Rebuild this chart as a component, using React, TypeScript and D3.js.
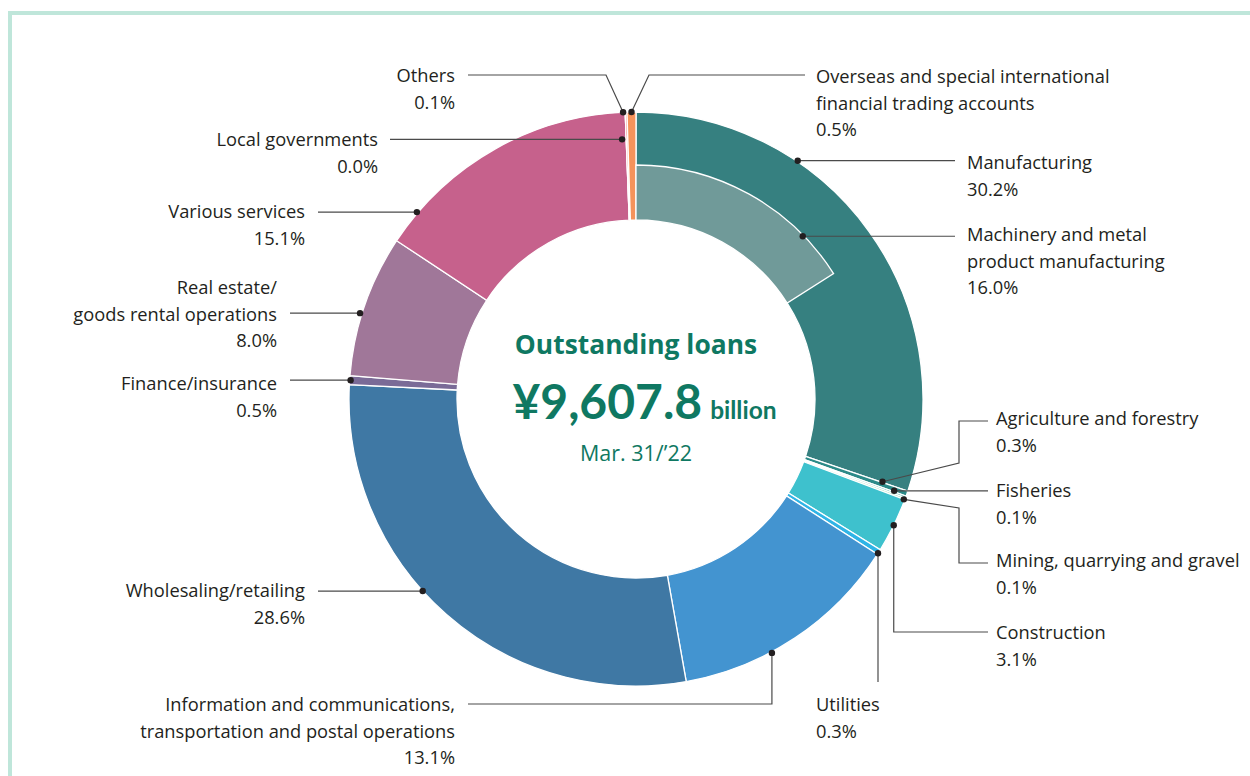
import React from "react";
import * as d3 from "d3";

// ---------- data ----------
const categories = [
  "Manufacturing",
  "Agriculture and forestry",
  "Fisheries",
  "Mining, quarrying and gravel",
  "Construction",
  "Utilities",
  "Information and communications, transportation and postal operations",
  "Wholesaling/retailing",
  "Finance/insurance",
  "Real estate/goods rental operations",
  "Various services",
  "Local governments",
  "Others",
  "Overseas and special international financial trading accounts",
];
const shares = [30.2, 0.3, 0.1, 0.1, 3.1, 0.3, 13.1, 28.6, 0.5, 8.0, 15.1, 0.0, 0.1, 0.5];
const subCategory = "Machinery and metal product manufacturing";
const subShare = 16.0;
const totalLoans = "¥9,607.8";
const dateLabel = "Mar. 31/’22";

// label text lines (display wrapping)
const labelLines = [
  ["Manufacturing"],
  ["Agriculture and forestry"],
  ["Fisheries"],
  ["Mining, quarrying and gravel"],
  ["Construction"],
  ["Utilities"],
  ["Information and communications,", "transportation and postal operations"],
  ["Wholesaling/retailing"],
  ["Finance/insurance"],
  ["Real estate/", "goods rental operations"],
  ["Various services"],
  ["Local governments"],
  ["Others"],
  ["Overseas and special international", "financial trading accounts"],
];
const subLabelLines = ["Machinery and metal", "product manufacturing"];

// ---------- style ----------
const colors = [
  "#368080", "#2c8a88", "#27a89b", "#93d3a1", "#3ec1cd", "#2fb4e6", "#4394d0",
  "#3f78a4", "#7a6b97", "#a07799", "#c6618c", "#f2b6c0", "#eb5e55", "#f5935b",
];
const subColor = "#709a99";
const W = 1250, H = 776;
const cx = 636, cy = 399;
const rOuter = 287, rInner = 179, rSub = 234;
const textColor = "#231f20";
const lineColor = "#4a4a4a";
const centerColor = "#0f7862";
const FONT = "'Open Sans', sans-serif";
const FONT2 = "Lato, sans-serif";
const FS = 18.3;
const LH = 26.5;

type Lay = {
  off: number; r: number; pts: [number | null, number | null][];
  tx: number; anchor: "start" | "end"; ty: number; sub?: boolean; idx: number;
};
const layouts: Lay[] = [
  { idx: 0, off: -20.2, r: 288, pts: [[955, null]], tx: 967, anchor: "start", ty: 169 },
  { idx: -1, sub: true, off: 16.9, r: 233, pts: [[955, null]], tx: 967, anchor: "start", ty: 241 },
  { idx: 1, off: -0.7, r: 260, pts: [[959, 463], [959, 421], [988, 421]], tx: 996, anchor: "start", ty: 425 },
  { idx: 2, off: -0.4, r: 274, pts: [[988, null]], tx: 996, anchor: "start", ty: 497 },
  { idx: 3, off: 0.2, r: 286, pts: [[959, 508], [959, 563], [988, 563]], tx: 996, anchor: "start", ty: 567 },
  { idx: 4, off: 0, r: 287, pts: [[null, 632], [988, 632]], tx: 996, anchor: "start", ty: 639 },
  { idx: 5, off: 0.3, r: 287, pts: [[null, 682]], tx: 816, anchor: "start", ty: 711 },
  { idx: 6, off: 5.5, r: 288, pts: [[null, 704], [468, 704]], tx: 455, anchor: "end", ty: 711 },
  { idx: 7, off: 6.6, r: 287, pts: [[318, null]], tx: 305, anchor: "end", ty: 597 },
  { idx: 8, off: 0, r: 286, pts: [[290, null]], tx: 277, anchor: "end", ty: 390 },
  { idx: 9, off: -1.8, r: 289, pts: [[290, null]], tx: 277, anchor: "end", ty: 294 },
  { idx: 10, off: -20.2, r: 288, pts: [[318, null]], tx: 305, anchor: "end", ty: 218 },
  { idx: 11, off: -0.9, r: 260, pts: [[390, null]], tx: 378, anchor: "end", ty: 146 },
  { idx: 12, off: -0.6, r: 287, pts: [[606, 75], [468, 75]], tx: 455, anchor: "end", ty: 82 },
  { idx: 13, off: 0, r: 287, pts: [[649, 75], [805, 75]], tx: 816, anchor: "start", ty: 83 },
];

const fmt = (v: number) => v.toFixed(1) + "%";

export default function App() {
  const data = categories.map((c, i) => ({ c, v: shares[i], i }));
  const pie = d3.pie<any>().sort(null).value((d) => d.v).startAngle(0).endAngle(2 * Math.PI);
  const arcs = pie(data);
  const total = d3.sum(shares);
  const arcGen = d3.arc<any>().innerRadius(rInner).outerRadius(rOuter);
  const subStart = arcs[0].startAngle;
  const subEnd = subStart + (subShare / total) * 2 * Math.PI;
  const subArc = d3.arc<any>().innerRadius(rInner).outerRadius(rSub)({ startAngle: subStart, endAngle: subEnd });

  const pt = (a: number, r: number): [number, number] => [cx + r * Math.sin(a), cy - r * Math.cos(a)];

  return (
    <svg width={W} height={H} style={{ position: "absolute", left: 0, top: 0, background: "#fff" }}>
      <rect x={10} y={13} width={1260} height={800} fill="none" stroke="#bfe6da" strokeWidth={4} />
      <g transform={`translate(${cx},${cy})`}>
        {arcs.map((a, i) => (
          <path key={i} d={arcGen(a) as string} fill={colors[i]} stroke="#fff" strokeWidth={1.3} />
        ))}
        <path d={subArc as string} fill={subColor} stroke="#fff" strokeWidth={1.3} />
      </g>
      {layouts.map((L, k) => {
        const mid = L.sub
          ? (subStart + subEnd) / 2
          : (arcs[L.idx].startAngle + arcs[L.idx].endAngle) / 2;
        const a = mid + (L.off * Math.PI) / 180;
        const p0 = pt(a, L.r);
        const pts: [number, number][] = [p0];
        L.pts.forEach(([x, y]) => {
          const prev = pts[pts.length - 1];
          pts.push([x == null ? prev[0] : x, y == null ? prev[1] : y]);
        });
        const lines = L.sub
          ? [...subLabelLines, fmt(subShare)]
          : [...labelLines[L.idx], fmt(shares[L.idx])];
        return (
          <g key={k}>
            <path d={d3.line()(pts) as string} fill="none" stroke={lineColor} strokeWidth={1.2} />
            <circle cx={p0[0]} cy={p0[1]} r={3.2} fill={textColor} />
            <text x={L.tx} y={L.ty} textAnchor={L.anchor} fontFamily={FONT} fontSize={FS} fill={textColor}>
              {lines.map((t, j) => (
                <tspan key={j} x={L.tx} y={L.ty + j * LH}>{t}</tspan>
              ))}
            </text>
          </g>
        );
      })}
      <g fill={centerColor}>
        <text x={cx} y={354} textAnchor="middle" fontSize={26.4} fontWeight={700} fontFamily={FONT}>Outstanding loans</text>
        <text x={cx + 8.5} y={419} textAnchor="middle" fontFamily={FONT2}>
          <tspan fontSize={48} fontWeight={700}>{totalLoans}</tspan>
          <tspan fontSize={24.5} fontWeight={700} dx={8}>billion</tspan>
        </text>
        <text x={cx} y={461} textAnchor="middle" fontSize={21.5} fontFamily={FONT}>{dateLabel}</text>
      </g>
    </svg>
  );
}
